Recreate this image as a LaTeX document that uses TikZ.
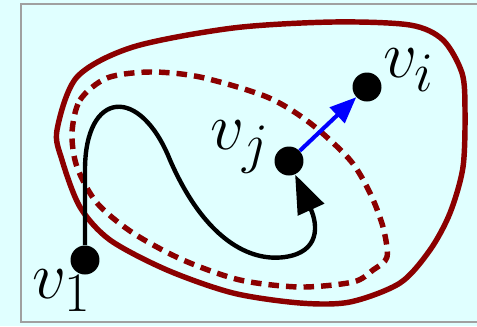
\documentclass[tikz,border=0pt]{standalone}
\usetikzlibrary{arrows.meta}
\definecolor{fondo}{HTML}{E0FFFF}
\definecolor{marco}{HTML}{A0A0A0}
\definecolor{rojo}{HTML}{8B0000}

\begin{document}
\begin{tikzpicture}[
x=0.02cm,
y=-0.02cm,
vertice/.style={
    circle,
    fill=black,
    inner sep=0pt,
    minimum size=0.58cm
},
etiqueta/.style={
    font=\Huge,
    scale=1.53,
    inner sep=0pt
},
region/.style={
    draw=rojo,
    line width=3.1pt
},
subregion/.style={
    draw=rojo,
    line width=3.1pt,
    dash pattern=on 6pt off 4pt
},
camino/.style={
    -{Triangle[length=22pt,width=16pt]},
    line width=2.5pt
},
arista/.style={
    -{Triangle[length=15pt,width=12pt]},
    draw=blue,
    line width=2.3pt
}
]

\useasboundingbox (0,0) rectangle (477,326);

% Fondo y marco
\fill[fondo] (0,0) rectangle (477,326);
\draw[marco, line width=1.4pt] (21,4) rectangle (490,322);

% Regiones
\draw[region] plot[smooth cycle] coordinates {
(57,130) (77,77) (133,47) (233,28) (333,22) (410,25) (443,40)
(462,73) (465,110) (463,167) (450,213) (430,250) (400,283)
(350,302) (300,303) (233,293) (167,270) (110,240) (80,207) (62,160)
};

\draw[subregion] plot[smooth cycle] coordinates {
(72,133) (80,100) (107,78) (150,72) (200,77) (267,97) (310,123)
(350,160) (370,193) (383,227) (387,257) (373,270) (353,282)
(300,287) (240,280) (183,260) (133,233) (97,203) (77,167)
};

% Vertices
\node[vertice] (v1) at (85,260) {};
\node[vertice] (vj) at (289,161) {};
\node[vertice] (vi) at (367,87) {};

\node[etiqueta] (lv1) at (62,291) {$v_1$};
\node[etiqueta] (lvj) at (240,147) {$v_j$};
\node[etiqueta] (lvi) at (409,70) {$v_i$};

% Camino de v1 a vj
\draw[camino]
(v1) -- (85,170)
.. controls (85,90) and (140,85) .. (170,160)
.. controls (205,240) and (250,262) .. (285,257)
.. controls (320,252) and (318,225) .. (vj);

% Arista de vj a vi
\draw[arista]
(vj) -- (vi);

\end{tikzpicture}
\end{document}
